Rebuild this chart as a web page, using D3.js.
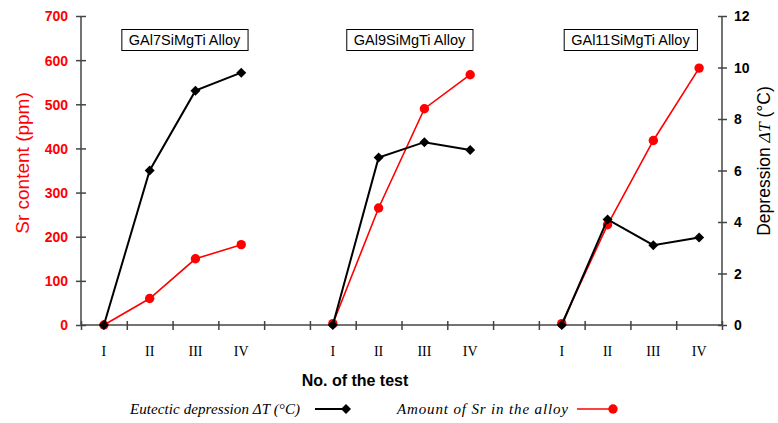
<!DOCTYPE html>
<html>
<head>
<meta charset="utf-8">
<script src="https://cdn.jsdelivr.net/npm/d3@7"></script>
<style>
  body { margin: 0; background: #fff; }
  svg { display: block; }
</style>
</head>
<body>
<div id="chart"></div>
<script>
// data
const tests = ["I", "II", "III", "IV"];
const alloys = ["GAl7SiMgTi Alloy", "GAl9SiMgTi Alloy", "GAl11SiMgTi Alloy"];
const srContent = [[0, 60, 150, 182], [3, 265, 490, 567], [3, 227, 418, 582]];   // ppm, left axis
const depression = [[0, 6.0, 9.1, 9.8], [0, 6.5, 7.1, 6.8], [0, 4.1, 3.1, 3.4]]; // deg C, right axis
const srTicks = [0, 100, 200, 300, 400, 500, 600, 700];
const dtTicks = [0, 2, 4, 6, 8, 10, 12];

let width = 778, height = 423;
let margin = { top: 16, left: 81, right: 56, bottom: 98 };
let plotW = width - margin.left - margin.right,
    plotH = height - margin.top - margin.bottom;
let titleShift = [12, 8, 0]; // title boxes sit a little right of the group centre

// 14 slots: 4 tests, a gap, 4 tests, a gap, 4 tests
let slots = [];
alloys.forEach(function(a, g) {
  tests.forEach(function(t, i) { slots.push({ key: g + "-" + i, label: t }); });
  if (g < alloys.length - 1) slots.push({ key: "gap" + g, label: "" });
});

let xScale = d3.scaleBand().domain(slots.map(d => d.key)).range([0, plotW]);
let xEdge = d3.scaleLinear().domain([0, slots.length]).range([0, plotW]);
let ySr = d3.scaleLinear().domain([0, 700]).range([plotH, 0]);
let yDt = d3.scaleLinear().domain([0, 12]).range([plotH, 0]);

let svg = d3.select("#chart").append("svg")
  .attr("width", width).attr("height", height);

let g = svg.append("g").attr("transform", "translate(" + margin.left + "," + margin.top + ")");

const axisColor = "#444";

// left axis
let left = g.append("g")
  .call(d3.axisLeft(ySr).tickValues(srTicks).tickSize(5).tickPadding(8));
left.selectAll("line").attr("x2", -5).attr("x1", 5).attr("stroke", axisColor).attr("stroke-width", 1.5);
left.select(".domain").attr("d", "M0," + plotH + "V0").attr("stroke", axisColor).attr("stroke-width", 1.5);
left.selectAll("text").attr("fill", "#ff0000").attr("font-family", "Arial, Liberation Sans, sans-serif")
  .attr("font-weight", "bold").attr("font-size", 14).attr("dy", "0.35em");

// right axis
let right = g.append("g").attr("transform", "translate(" + plotW + ",0)")
  .call(d3.axisRight(yDt).tickValues(dtTicks).tickSize(5).tickPadding(7));
right.selectAll("line").attr("x1", -4).attr("x2", 5).attr("stroke", axisColor).attr("stroke-width", 1.5);
right.select(".domain").attr("d", "M0," + plotH + "V0").attr("stroke", axisColor).attr("stroke-width", 1.5);
right.selectAll("text").attr("fill", "#000").attr("font-family", "Arial, Liberation Sans, sans-serif")
  .attr("font-weight", "bold").attr("font-size", 14).attr("dy", "0.35em");

// bottom axis: tick marks at slot edges, labels at slot centres
let bottom = g.append("g").attr("transform", "translate(0," + plotH + ")")
  .call(d3.axisBottom(xEdge).tickValues(d3.range(0, slots.length + 1)).tickFormat("").tickSize(5));
bottom.selectAll("line").attr("y1", -4).attr("y2", 5).attr("stroke", axisColor).attr("stroke-width", 1.5);
bottom.select(".domain").attr("d", "M0,0H" + plotW).attr("stroke", axisColor).attr("stroke-width", 1.5);

let labels = g.append("g").attr("transform", "translate(0," + plotH + ")")
  .call(d3.axisBottom(xScale).tickSize(0).tickPadding(21).tickFormat(function(k) {
    return slots.find(s => s.key === k).label;
  }));
labels.select(".domain").remove();
labels.selectAll("text").attr("fill", "#000").attr("font-family", "Times New Roman, Liberation Serif, serif")
  .attr("font-size", 14);

// series
let lineSr = d3.line().x(d => xScale(d.key) + xScale.bandwidth() / 2).y(d => ySr(d.v));
let lineDt = d3.line().x(d => xScale(d.key) + xScale.bandwidth() / 2).y(d => yDt(d.v));
let diamond = d3.symbol().type(d3.symbolSquare).size(50);

alloys.forEach(function(a, gi) {
  let sr = srContent[gi].map((v, i) => ({ key: gi + "-" + i, v: v }));
  let dt = depression[gi].map((v, i) => ({ key: gi + "-" + i, v: v }));

  g.append("path").datum(sr).attr("d", lineSr)
    .attr("fill", "none").attr("stroke", "#ff0000").attr("stroke-width", 1.6);
  g.selectAll(".sr" + gi).data(sr).enter().append("circle")
    .attr("class", "sr" + gi)
    .attr("cx", d => xScale(d.key) + xScale.bandwidth() / 2)
    .attr("cy", d => ySr(d.v))
    .attr("r", 4.7).attr("fill", "#ff0000");

  g.append("path").datum(dt).attr("d", lineDt)
    .attr("fill", "none").attr("stroke", "#000").attr("stroke-width", 2);
  g.selectAll(".dt" + gi).data(dt).enter().append("path")
    .attr("class", "dt" + gi)
    .attr("d", diamond)
    .attr("transform", d => "translate(" + (xScale(d.key) + xScale.bandwidth() / 2) + "," + yDt(d.v) + ") rotate(45)")
    .attr("fill", "#000");

  // alloy title box above the group
  let gx0 = xScale(gi + "-0"), gx1 = xScale(gi + "-3") + xScale.bandwidth();
  let cx = (gx0 + gx1) / 2 + titleShift[gi];
  let box = g.append("g");
  let rect = box.append("rect");
  let t = box.append("text").attr("x", cx).attr("y", 29)
    .attr("text-anchor", "middle").attr("font-family", "Arial, Liberation Sans, sans-serif")
    .attr("font-size", 14.5).attr("fill", "#000").text(a);
  let bb = t.node().getBBox();
  rect.attr("x", bb.x - 7).attr("y", 13.5).attr("width", bb.width + 14).attr("height", 21)
    .attr("fill", "#fff").attr("stroke", "#000").attr("stroke-width", 1);
});

// axis titles
svg.append("text")
  .attr("transform", "translate(29," + (margin.top + 147) + ") rotate(-90)")
  .attr("text-anchor", "middle").attr("font-family", "Arial, Liberation Sans, sans-serif")
  .attr("font-size", 19).attr("fill", "#ff0000")
  .text("Sr content (ppm)");

let rt = svg.append("text")
  .attr("transform", "translate(770," + (margin.top + 145) + ") rotate(-90)")
  .attr("text-anchor", "middle").attr("font-family", "Arial, Liberation Sans, sans-serif")
  .attr("font-size", 17.5).attr("fill", "#000");
rt.append("tspan").text("Depression ");
rt.append("tspan").attr("font-family", "Times New Roman, Liberation Serif, serif").attr("font-style", "italic").text("\u0394T");
rt.append("tspan").text(" (\u00b0C)");

svg.append("text").attr("x", 355).attr("y", 386)
  .attr("text-anchor", "middle").attr("font-family", "Arial, Liberation Sans, sans-serif")
  .attr("font-weight", "bold").attr("font-size", 16).attr("fill", "#000")
  .text("No. of the test");

// legend
let legend = svg.append("g").attr("font-family", "Times New Roman, Liberation Serif, serif")
  .attr("font-style", "italic").attr("font-size", 15);
legend.append("text").attr("x", 130).attr("y", 414)
  .attr("textLength", 170).attr("lengthAdjust", "spacing").text("Eutectic depression \u0394T (\u00b0C)");
legend.append("line").attr("x1", 315).attr("x2", 346).attr("y1", 409).attr("y2", 409)
  .attr("stroke", "#000").attr("stroke-width", 2);
legend.append("path").attr("d", diamond).attr("transform", "translate(346,409) rotate(45)").attr("fill", "#000");
legend.append("text").attr("x", 397).attr("y", 414)
  .attr("textLength", 171).attr("lengthAdjust", "spacing").text("Amount of Sr in the alloy");
legend.append("line").attr("x1", 577).attr("x2", 613).attr("y1", 409).attr("y2", 409)
  .attr("stroke", "#ff0000").attr("stroke-width", 1.6);
legend.append("circle").attr("cx", 613).attr("cy", 409).attr("r", 4.7).attr("fill", "#ff0000");
</script>
</body>
</html>
